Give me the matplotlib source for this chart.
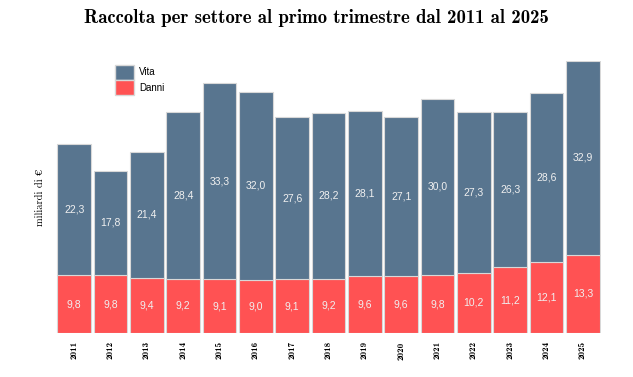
import numpy as np
import matplotlib.pyplot as plt
from matplotlib.patches import Patch

anni = [str(a) for a in range(2011, 2026)]
vita = [22.3, 17.8, 21.4, 28.4, 33.3, 32.0, 27.6, 28.2, 28.1, 27.1, 30.0, 27.3, 26.3, 28.6, 32.9]
danni = [9.8, 9.8, 9.4, 9.2, 9.1, 9.0, 9.1, 9.2, 9.6, 9.6, 9.8, 10.2, 11.2, 12.1, 13.3]

col_vita = '#58758f'
col_danni = '#ff5253'

fig = plt.figure(figsize=(6.33, 3.77), dpi=100)
ax = fig.add_axes([56/633, 1 - 333/377, 545/633, (333 - 61)/377])

x = np.arange(len(anni))
ax.bar(x, danni, width=0.93, color=col_danni, edgecolor='#d8d8d8', linewidth=0.8)
ax.bar(x, vita, bottom=danni, width=0.93, color=col_vita, edgecolor='#d8d8d8', linewidth=0.8)

def fmt(v):
    return f'{v:.1f}'.replace('.', ',')

for i in range(len(anni)):
    ax.text(x[i], danni[i] / 2, fmt(danni[i]), ha='center', va='center',
            color='#f0f0f0', fontsize=7.5, family='Liberation Sans')
    ax.text(x[i], danni[i] + vita[i] / 2, fmt(vita[i]), ha='center', va='center',
            color='#f0f0f0', fontsize=7.5, family='Liberation Sans')

ax.set_xlim(-0.5, len(anni) - 0.5)
ax.set_ylim(0, max(np.array(vita) + np.array(danni)))
ax.set_xticks(x)
ax.set_xticklabels(anni, rotation=90, fontsize=6.5, family='cmb10')
ax.set_yticks([])
ax.tick_params(axis='x', length=0, pad=6)
for s in ax.spines.values():
    s.set_visible(False)

ax.set_ylabel('miliardi di €', family=['cmr10', 'DejaVu Serif'], fontsize=7.5, labelpad=8)

fig.text(0.5, 1 - 18/377, 'Raccolta per settore al primo trimestre dal 2011 al 2025',
         ha='center', va='center', fontsize=13.5, family='cmb10')

handles = [Patch(facecolor=col_vita, edgecolor='#d8d8d8'), Patch(facecolor=col_danni, edgecolor='#d8d8d8')]
fig.legend(handles, ['Vita', 'Danni'], loc='upper left', bbox_to_anchor=(106/633, 1 - 56/377),
           frameon=False, handlelength=2.0, handleheight=2.0,
           handletextpad=0.5, labelspacing=0.05, prop={'family': 'Liberation Sans', 'size': 7})

fig.savefig('out.png', dpi=100)
